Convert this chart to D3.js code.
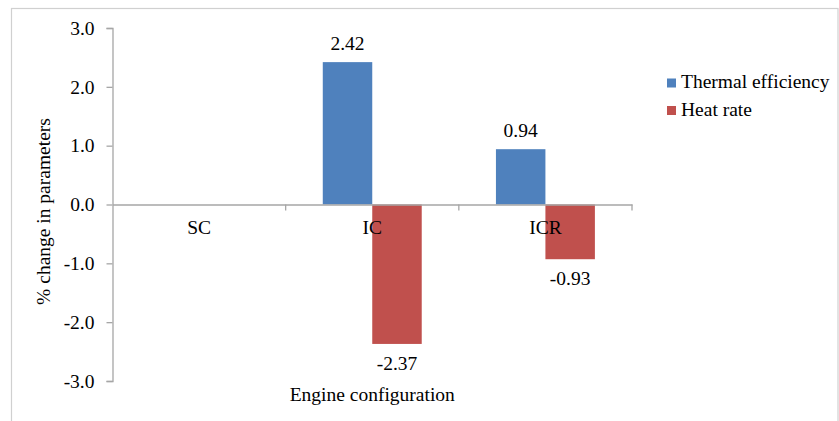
<!DOCTYPE html>
<html>
<head>
<meta charset="utf-8">
<script src="https://cdn.jsdelivr.net/npm/d3@7/dist/d3.min.js"></script>
<style>
  html, body { margin: 0; padding: 0; background: #fff; }
  svg text { font-family: "Liberation Serif", "Times New Roman", serif !important; fill: #000; }
</style>
</head>
<body>
<svg id="chart" width="839" height="421"></svg>
<script>
const categories = ["SC", "IC", "ICR"];
const seriesNames = ["Thermal efficiency", "Heat rate"];
const thermalEfficiency = [0, 2.42, 0.94];
const heatRate = [0, -2.37, -0.93];
const yTicks = [-3, -2, -1, 0, 1, 2, 3];
const colors = ["#4F81BD", "#C0504D"];

const FONT = '"Liberation Serif", "Times New Roman", serif';
const FS = 19.5;
const fmt1 = d => d.toFixed(1);
const fmt2 = d => d.toFixed(2);

const svg = d3.select("#chart");

// outer chart border
svg.append("rect")
  .attr("x", 11.5).attr("y", 8.5)
  .attr("width", 826.5).attr("height", 430)
  .attr("fill", "#fff").attr("stroke", "#d0d0d0").attr("stroke-width", 1.2);

const plot = { left: 112.5, right: 632, top: 28, bottom: 381 };

const x = d3.scaleBand().domain(categories).range([plot.left, plot.right]).paddingInner(0).paddingOuter(0);
const y = d3.scaleLinear().domain([-3, 3]).range([plot.bottom, plot.top]);

const bw = x.bandwidth() / 3.5;
const x1 = d3.scaleBand().domain(seriesNames).range([0, 2 * bw]);

const seriesData = [thermalEfficiency, heatRate];
const rows = categories.map((c, i) => ({ c, vals: seriesData.map((s, j) => ({ name: seriesNames[j], v: s[i], j })) }));

// bars
const g = svg.append("g");
rows.forEach(r => {
  r.vals.forEach(d => {
    if (d.v === 0) return;
    const bx = x(r.c) + 0.75 * bw + x1(d.name);
    g.append("rect")
      .attr("x", bx)
      .attr("y", y(Math.max(0, d.v)))
      .attr("width", x1.bandwidth())
      .attr("height", Math.abs(y(d.v) - y(0)))
      .attr("fill", colors[d.j]);
    g.append("text")
      .attr("x", bx + x1.bandwidth() / 2)
      .attr("y", d.v > 0 ? y(d.v) - 12 : y(d.v) + 26)
      .attr("text-anchor", "middle")
      .style("font-family", FONT).style("font-size", FS + "px")
      .text(fmt2(d.v));
  });
});

// y axis
const yAxis = d3.axisLeft(y).tickValues(yTicks).tickFormat(fmt1).tickSize(6).tickPadding(12);
const ya = svg.append("g").attr("transform", `translate(${plot.left},0)`).call(yAxis);
ya.attr("font-family", null).attr("font-size", null);
ya.select(".domain").attr("stroke", "#a6a6a6").attr("stroke-width", 1.3);
ya.selectAll(".tick line").attr("stroke", "#a6a6a6").attr("stroke-width", 1.3);
ya.selectAll(".tick text").style("font-family", FONT).style("font-size", FS + "px").attr("fill", "#000");

// x axis at zero
const xAxis = d3.axisBottom(x).tickSize(0).tickFormat(() => "");
const xa = svg.append("g").attr("transform", `translate(0,${y(0)})`).call(xAxis);
xa.select(".domain").attr("stroke", "#a6a6a6").attr("stroke-width", 1.3);
const bounds = categories.map(c => x(c) + x.bandwidth());
xa.selectAll(".bt").data(bounds).enter().append("line")
  .attr("x1", d => d).attr("x2", d => d).attr("y1", 0).attr("y2", 6)
  .attr("stroke", "#a6a6a6").attr("stroke-width", 1.3);
// category labels
svg.append("g").selectAll("text").data(categories).enter().append("text")
  .attr("x", d => x(d) + x.bandwidth() / 2)
  .attr("y", y(0) + 29)
  .attr("text-anchor", "middle")
  .style("font-family", FONT).style("font-size", FS + "px")
  .text(d => d);

// axis titles
svg.append("text")
  .attr("x", (plot.left + plot.right) / 2)
  .attr("y", 401)
  .attr("text-anchor", "middle")
  .style("font-family", FONT).style("font-size", FS + "px")
  .text("Engine configuration");

svg.append("text")
  .attr("transform", `translate(50,${(plot.top + plot.bottom) / 2 + 7}) rotate(-90)`)
  .attr("text-anchor", "middle")
  .style("font-family", FONT).style("font-size", FS + "px")
  .text("% change in parameters");

// legend
const leg = svg.append("g");
seriesNames.forEach((n, i) => {
  const ly = 82.5 + i * 27.5;
  leg.append("rect").attr("x", 667).attr("y", ly - 4).attr("width", 9).attr("height", 9).attr("fill", colors[i]);
  leg.append("text").attr("x", 681).attr("y", ly + 5.5)
    .style("font-family", FONT).style("font-size", FS + "px").text(n);
});
</script>
</body>
</html>
